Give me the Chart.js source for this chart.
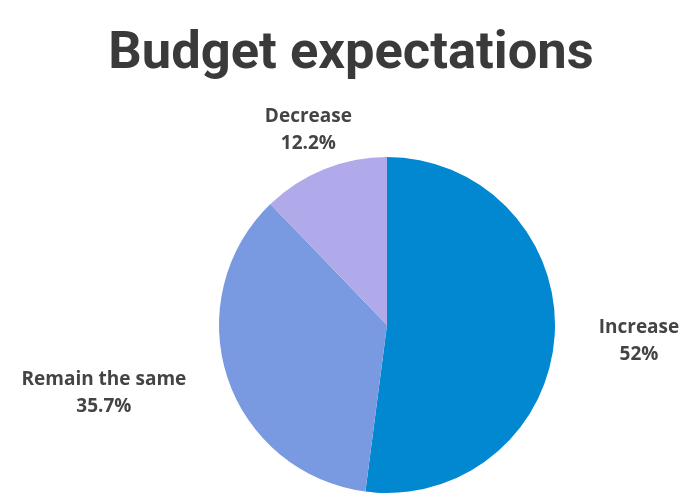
<!DOCTYPE html>
<html>
<head>
<meta charset="utf-8">
<script src="https://cdn.jsdelivr.net/npm/chart.js@4"></script>
<style>
html,body{margin:0;padding:0;background:#fff;}
#wrap{width:700px;height:500px;position:relative;}
</style>
</head>
<body>
<div id="wrap"><canvas id="c" width="700" height="500"></canvas></div>
<script>
const titleText = "Budget expectations";
const categories = ["Increase", "Remain the same", "Decrease"];
const values = [52, 35.7, 12.2];
const valueLabels = ["52%", "35.7%", "12.2%"];
const colors = ["#0288D1", "#799AE0", "#B0AAEB"];
const labelDistance = [245, 216, 210];
const labelShiftX = [7.5, -78, 0];

const labelPlugin = {
  id: 'customLabels',
  afterDraw(chart) {
    const ctx = chart.ctx;
    ctx.save();
    ctx.fillStyle = '#3a3a3a';
    ctx.font = 'bold 52.5px Roboto';
    ctx.textAlign = 'center';
    ctx.textBaseline = 'alphabetic';
    ctx.fillText(titleText, 351, 68);

    const meta = chart.getDatasetMeta(0);
    ctx.font = 'bold 19px "Open Sans"';
    ctx.fillStyle = '#444444';
    ctx.textBaseline = 'middle';
    meta.data.forEach((arc, i) => {
      const p = arc.getProps(['x','y','startAngle','endAngle'], true);
      const mid = (p.startAngle + p.endAngle) / 2;
      const d = labelDistance[i];
      const cx = p.x + Math.cos(mid) * d + labelShiftX[i];
      const cy = p.y + Math.sin(mid) * d;
      ctx.fillText(categories[i], cx, cy - 13.5);
      ctx.fillText(valueLabels[i], cx, cy + 13.5);
    });
    ctx.restore();
  }
};

new Chart(document.getElementById('c'), {
  type: 'pie',
  data: {
    labels: categories,
    datasets: [{
      data: values,
      backgroundColor: colors,
      borderWidth: 0
    }]
  },
  options: {
    responsive: false,
    animation: false,
    layout: { padding: { left: 219, right: 145, top: 157, bottom: 7 } },
    plugins: {
      legend: { display: false },
      tooltip: { enabled: false },
      title: { display: false }
    }
  },
  plugins: [labelPlugin]
});
</script>
</body>
</html>
